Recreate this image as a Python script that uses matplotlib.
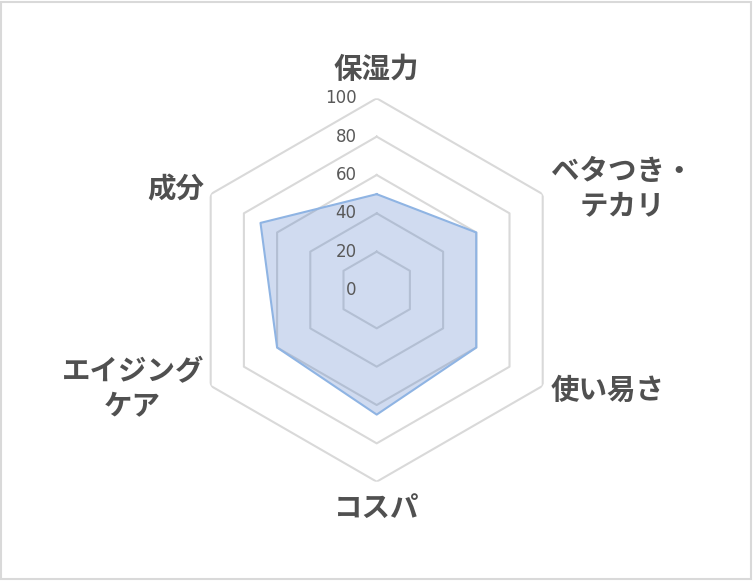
import numpy as np
import matplotlib.pyplot as plt
from matplotlib.patches import Rectangle
from matplotlib.transforms import offset_copy

plt.rcParams['font.family'] = ['Noto Sans CJK JP', 'DejaVu Sans']

categories = ['保湿力', 'ベタつき・\nテカリ', '使い易さ', 'コスパ', 'エイジング\nケア', '成分']
values = [50, 60, 60, 65, 60, 70]
ticks = [0, 20, 40, 60, 80, 100]

n = len(categories)
angles = np.arange(n) * 2 * np.pi / n

fig = plt.figure(figsize=(7.53, 5.81), dpi=100)
fig.patches.append(Rectangle((0.5 / 753, 2 / 581), 750 / 753, 577 / 581,
                             transform=fig.transFigure, fill=False,
                             edgecolor='#D9D9D9', linewidth=1.5))

cx, cy, rad = 376.7 / 753, 291 / 581, 191.7
ax = fig.add_axes([cx - rad / 753, cy - rad / 581, 2 * rad / 753, 2 * rad / 581],
                  projection='polar')
ax.set_theta_offset(np.pi / 2)
ax.set_theta_direction(-1)
ax.set_ylim(0, 100)
ax.grid(False)
ax.spines['polar'].set_visible(False)
ax.set_xticks([])
ax.set_yticks([])
ax.patch.set_alpha(0)

# hexagon grid
closed = np.append(angles, angles[0])
for t in ticks[1:]:
    ax.plot(closed, [t] * (n + 1), color='#D9D9D9', linewidth=1.5, zorder=1)

# data
vals = values + values[:1]
ax.fill(closed, vals, color='#4472C4', alpha=0.25, zorder=2, linewidth=0)
ax.plot(closed, vals, color='#8FB4E3', linewidth=1.5, zorder=3)

# radial tick labels
tr = offset_copy(ax.transData, fig=fig, x=-20, y=0, units='dots')
for t in ticks:
    ax.text(0, t, str(t), transform=tr, ha='right', va='center',
            fontsize=12, color='#595959', family=['DejaVu Sans'])

# category labels
lab = dict(fontsize=20.5, fontweight='bold', color='#505050',
           linespacing=1.28, multialignment='center')
ax.text(angles[0], 115, categories[0], ha='center', va='center', **lab)
ax.text(angles[1], 105, categories[1], ha='left', va='center', **lab)
ax.text(angles[2], 105, categories[2], ha='left', va='center', **lab)
ax.text(angles[3], 114, categories[3], ha='center', va='center', **lab)
ax.text(angles[4], 104, categories[4], ha='right', va='center', **lab)
ax.text(angles[5], 104, categories[5], ha='right', va='center', **lab)

fig.savefig('out.png', dpi=100)
